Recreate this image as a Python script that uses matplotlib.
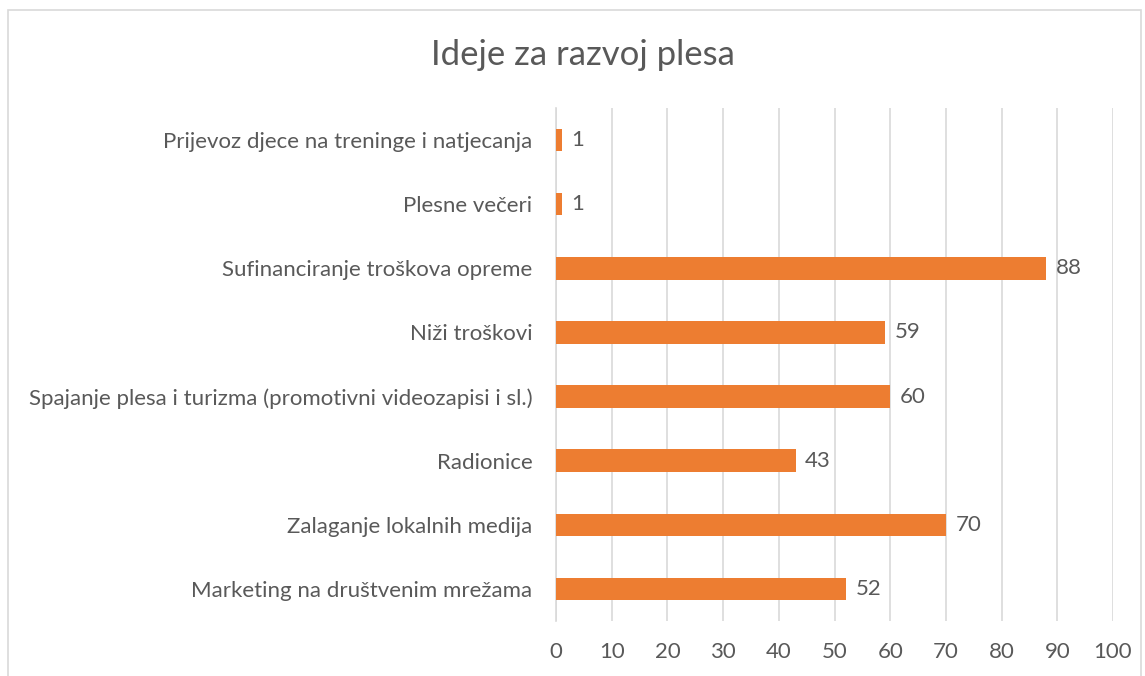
import matplotlib.pyplot as plt

# podaci
kategorije = [
    "Marketing na društvenim mrežama",
    "Zalaganje lokalnih medija",
    "Radionice",
    "Spajanje plesa i turizma (promotivni videozapisi i sl.)",
    "Niži troškovi",
    "Sufinanciranje troškova opreme",
    "Plesne večeri",
    "Prijevoz djece na treninge i natjecanja",
]
vrijednosti = [52, 70, 43, 60, 59, 88, 1, 1]
x_ticks = [0, 10, 20, 30, 40, 50, 60, 70, 80, 90, 100]

naranca = "#ED7D31"
tekst = "#595959"
siva = "#D9D9D9"

plt.rcParams['font.family'] = ['Lato', 'DejaVu Sans']

fig = plt.figure(figsize=(11.45, 6.76), dpi=100)
ax = fig.add_axes([556 / 1145, 1 - 621 / 676, (1113 - 556) / 1145, (621 - 108) / 676])

y = list(range(len(kategorije)))
ax.barh(y, vrijednosti, height=0.35, color=naranca, zorder=3)

for yi, v in zip(y, vrijednosti):
    ax.annotate(str(v), (v, yi), xytext=(7, 0), textcoords="offset points",
                va="center", ha="left", fontsize=16, color=tekst)

ax.set_xlim(0, 100)
ax.set_ylim(-0.5, len(kategorije) - 0.5)
ax.set_xticks(x_ticks)
ax.set_yticks(y)
ax.set_yticklabels(kategorije)
ax.grid(axis="x", color=siva, linewidth=1.2, zorder=0)
ax.tick_params(axis="both", length=0, labelsize=16, labelcolor=tekst)
ax.tick_params(axis="y", pad=17)
ax.tick_params(axis="x", pad=15)

for s in ["top", "right", "bottom"]:
    ax.spines[s].set_visible(False)
ax.spines["left"].set_color(siva)
ax.spines["left"].set_linewidth(1.2)

fig.text(583 / 1145, 1 - 55 / 676, "Ideje za razvoj plesa", ha="center", va="center",
         fontsize=25, color=tekst)

# okvir grafikona
okvir = plt.Rectangle((8 / 1145, -0.05), (1141 - 8) / 1145, 1.05 - 10 / 676,
                      transform=fig.transFigure, fill=False, edgecolor=siva, linewidth=1.2)
fig.add_artist(okvir)

fig.savefig("out.png", dpi=100)
